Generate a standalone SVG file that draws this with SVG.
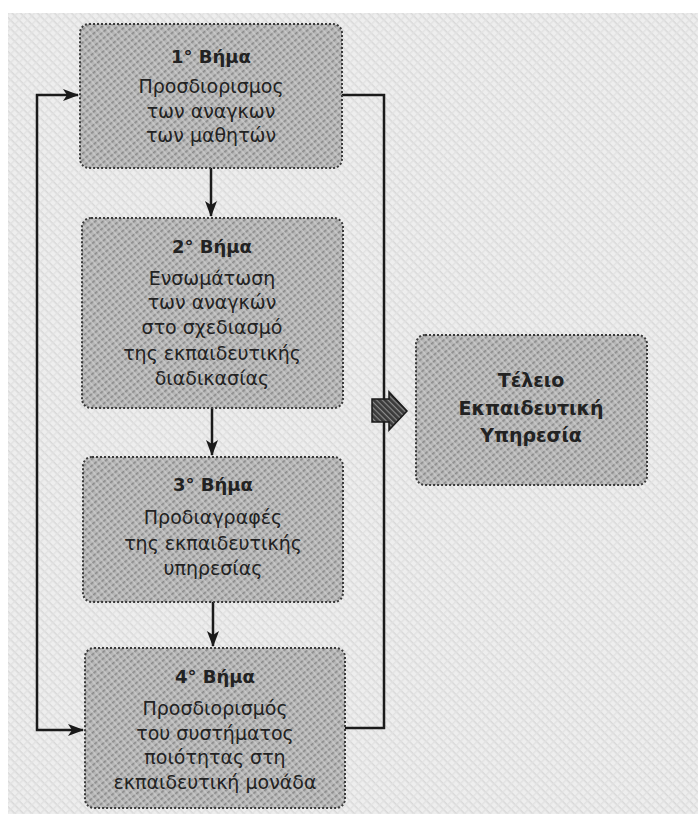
<svg xmlns="http://www.w3.org/2000/svg" width="698" height="814" viewBox="0 0 698 814">
<defs>
<pattern id="bgpat" width="6" height="6" patternUnits="userSpaceOnUse" patternTransform="rotate(45)">
<rect width="6" height="6" fill="#eeeeee"/>
<rect width="6" height="1.5" fill="#d8d8d8"/>
<rect width="1.5" height="6" y="0" x="3" fill="#e2e2e2"/>
</pattern>
<pattern id="boxpat" width="5" height="5" patternUnits="userSpaceOnUse" patternTransform="rotate(-40)">
<rect width="5" height="5" fill="#b6b6b6"/>
<rect width="5" height="1.6" fill="#8a8a8a"/>
<rect width="1.2" height="5" x="2.5" fill="#d0d0d0"/>
</pattern>
<pattern id="arrpat" width="4" height="4" patternUnits="userSpaceOnUse" patternTransform="rotate(45)">
<rect width="4" height="4" fill="#3a3a3a"/>
<rect width="4" height="1.2" fill="#8a8a8a"/>
</pattern>
<marker id="ah" viewBox="0 0 16 12" refX="15" refY="6" markerWidth="16" markerHeight="12" markerUnits="userSpaceOnUse" orient="auto-start-reverse">
<path d="M0,0 L16,6 L0,12 L4,6 Z" fill="#1a1a1a"/>
</marker>
<style>
.box{fill:url(#boxpat);stroke:#3a3a3a;stroke-width:2;stroke-dasharray:2 2}
.t{font-family:"DejaVu Sans","Liberation Sans",sans-serif;font-size:19px;fill:#222222;text-anchor:middle}
.h{font-weight:bold;font-size:18px}
.r{font-weight:bold;font-size:19px}
.ln{fill:none;stroke:#1a1a1a;stroke-width:2.5}
</style>
</defs>
<rect width="698" height="814" fill="#ffffff"/>
<rect x="8" y="13" width="690" height="801" fill="url(#bgpat)"/>

<g id="connectors">
<path class="ln" d="M78,95 L37,95 L37,730 L83,730" marker-start="url(#ah)" marker-end="url(#ah)"/>
<path class="ln" d="M342,95 L384,95 L384,728 L345,728"/>
<path class="ln" d="M211,168 L211,216" marker-end="url(#ah)"/>
<path class="ln" d="M212,408 L212,455" marker-end="url(#ah)"/>
<path class="ln" d="M213,602 L213,646" marker-end="url(#ah)"/>
<polygon points="372,399 389,399 389,392 407,411 389,430 389,422 372,422" fill="url(#arrpat)" stroke="#1a1a1a" stroke-width="1.5"/>
</g>

<g id="step1">
<rect class="box" x="80" y="24" width="262" height="144" rx="9"/>
<text class="t h" x="211" y="63">1° Βήμα</text>
<text class="t" x="211" y="93">Προσδιορισμος</text>
<text class="t" x="211" y="118">των αναγκων</text>
<text class="t" x="211" y="142">των μαθητών</text>
</g>

<g id="step2">
<rect class="box" x="82" y="218" width="261" height="190" rx="9"/>
<text class="t h" x="212" y="253">2° Βήμα</text>
<text class="t" x="212" y="285">Ενσωμάτωση</text>
<text class="t" x="212" y="309">των αναγκών</text>
<text class="t" x="212" y="334">στο σχεδιασμό</text>
<text class="t" x="212" y="360">της εκπαιδευτικής</text>
<text class="t" x="212" y="385">διαδικασίας</text>
</g>

<g id="step3">
<rect class="box" x="83" y="457" width="260" height="145" rx="9"/>
<text class="t h" x="213" y="491">3° Βήμα</text>
<text class="t" x="213" y="524">Προδιαγραφές</text>
<text class="t" x="213" y="550">της εκπαιδευτικής</text>
<text class="t" x="213" y="575">υπηρεσίας</text>
</g>

<g id="step4">
<rect class="box" x="85" y="648" width="260" height="160" rx="9"/>
<text class="t h" x="215" y="683">4° Βήμα</text>
<text class="t" x="215" y="715">Προσδιορισμός</text>
<text class="t" x="215" y="740">του συστήματος</text>
<text class="t" x="215" y="764">ποιότητας στη</text>
<text class="t" x="215" y="789">εκπαιδευτική μονάδα</text>
</g>

<g id="result">
<rect class="box" x="416" y="335" width="231" height="150" rx="9"/>
<text class="t r" x="531" y="387">Τέλειο</text>
<text class="t r" x="531" y="415">Εκπαιδευτική</text>
<text class="t r" x="531" y="442">Υπηρεσία</text>
</g>
</svg>
